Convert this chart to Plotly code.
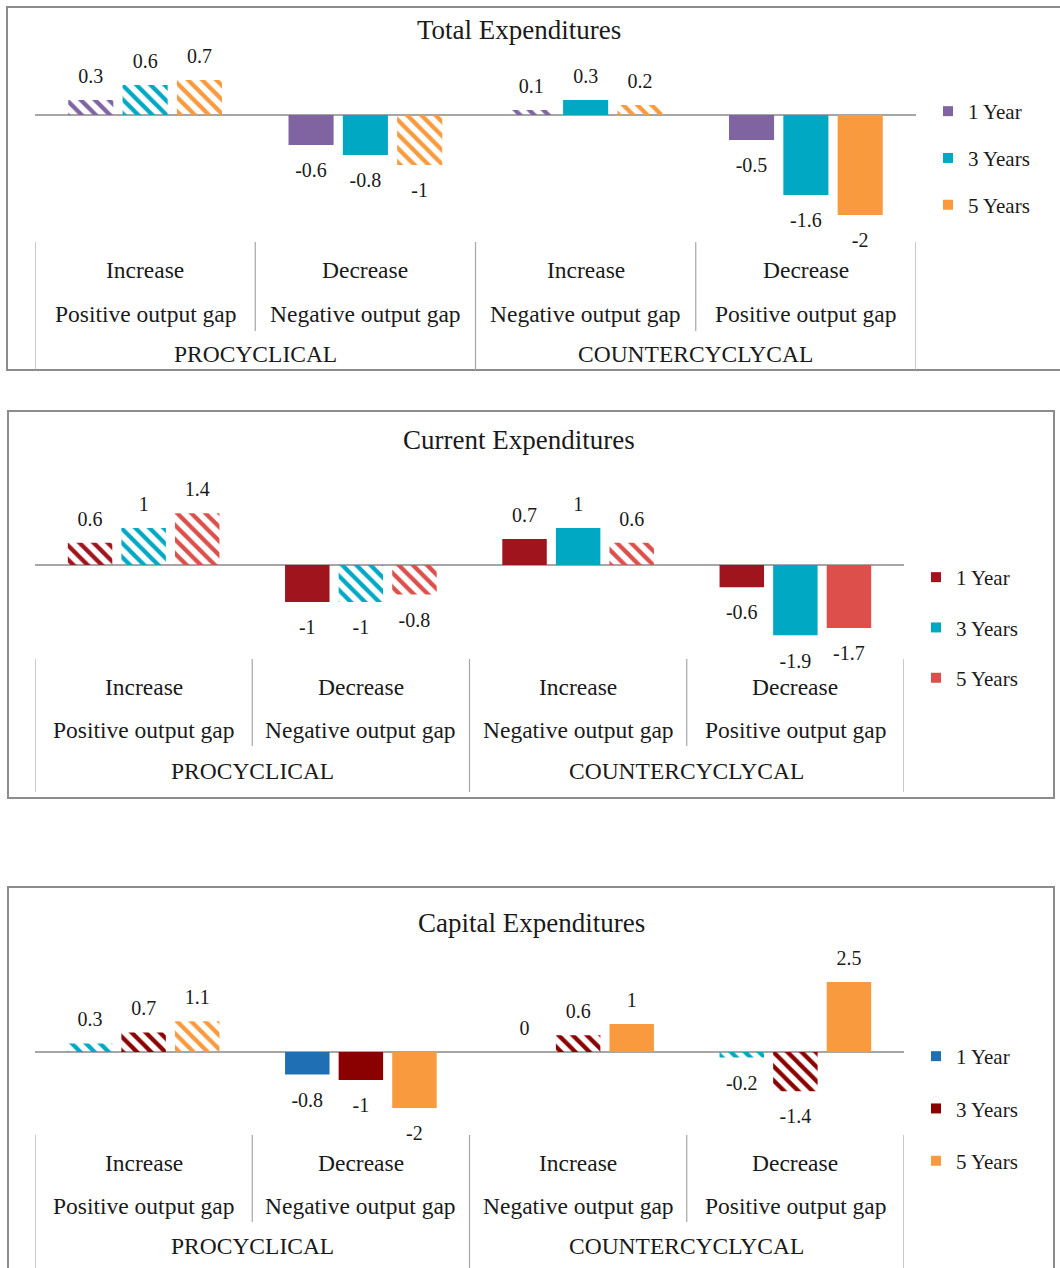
import plotly.graph_objects as go

W, H = 1060, 1268
FONT = "Liberation Serif"
INK = "#1a1a1a"

# ---- data -----------------------------------------------------------------
directions = ["Increase", "Decrease", "Increase", "Decrease"]
gaps = ["Positive output gap", "Negative output gap",
        "Negative output gap", "Positive output gap"]
cycles = ["PROCYCLICAL", "COUNTERCYCLYCAL"]
horizons = ["1 Year", "3 Years", "5 Years"]

total_1y = [0.3, -0.6, 0.1, -0.5]
total_3y = [0.6, -0.8, 0.3, -1.6]
total_5y = [0.7, -1.0, 0.2, -2.0]

current_1y = [0.6, -1.0, 0.7, -0.6]
current_3y = [1.0, -1.0, 1.0, -1.9]
current_5y = [1.4, -0.8, 0.6, -1.7]

capital_1y = [0.3, -0.8, 0.0, -0.2]
capital_3y = [0.7, -1.0, 0.6, -1.4]
capital_5y = [1.1, -2.0, 1.0, 2.5]

# 1 = hatched (not significant), 0 = solid
total_hatch = [[1, 0, 1, 0], [1, 0, 0, 0], [1, 1, 1, 0]]
current_hatch = [[1, 0, 0, 0], [1, 1, 0, 0], [1, 1, 1, 0]]
capital_hatch = [[1, 0, 0, 1], [1, 0, 1, 1], [1, 0, 0, 0]]

# ---- colours ----------------------------------------------------------------
PURPLE = "#8064A2"
TEAL = "#00A8C3"
ORANGE = "#F99A3E"
DARKRED = "#A0141E"
SALMON = "#DC4F4A"
BLUE = "#1F6FB5"
MAROON = "#8B0000"

BARGAP = 0.26

panels = [
    dict(title="Total Expenditures",
         series=[total_1y, total_3y, total_5y], hatch=total_hatch,
         legend_colors=[PURPLE, TEAL, ORANGE],
         bar_colors=[[PURPLE] * 4, [TEAL] * 4, [ORANGE] * 4],
         xdom=(35, 916), ydom=(40, 240), yrange=(-2.5, 1.5),
         border=(7, 7, 1064, 370), title_xy=(519, 30),
         rows=(270, 314, 354), sep=(242, 331, 370),
         legend_xy=(928, 91), legend_gap=16.5),
    dict(title="Current Expenditures",
         series=[current_1y, current_3y, current_5y], hatch=current_hatch,
         legend_colors=[DARKRED, TEAL, SALMON],
         bar_colors=[[DARKRED] * 4, [TEAL] * 4, [SALMON] * 4],
         xdom=(35, 904), ydom=(470, 655), yrange=(-90 / 37, 95 / 37),
         border=(8, 411, 1054, 798), title_xy=(519, 440),
         rows=(687, 730, 771), sep=(659, 746, 792),
         legend_xy=(916, 557), legend_gap=20),
    dict(title="Capital Expenditures",
         series=[capital_1y, capital_3y, capital_5y], hatch=capital_hatch,
         legend_colors=[BLUE, MAROON, ORANGE],
         bar_colors=[[TEAL, BLUE, BLUE, TEAL], [MAROON] * 4, [ORANGE] * 4],
         xdom=(35, 904), ydom=(950, 1130), yrange=(-78 / 28, 102 / 28),
         border=(8, 887, 1054, 1290), title_xy=(531, 923),
         rows=(1163, 1206, 1246), sep=(1135, 1222, 1268),
         legend_xy=(916, 1036), legend_gap=22),
]


def px_x(v):
    return v / W


def px_y(v):
    return 1 - v / H


fig = go.Figure()
layout = dict(width=W, height=H, margin=dict(l=0, r=0, t=0, b=0),
              paper_bgcolor="white", plot_bgcolor="white",
              barmode="group", bargap=BARGAP, bargroupgap=0.17,
              scattermode="group", scattergap=BARGAP,
              font=dict(family=FONT, color=INK),
              showlegend=True)
annotations = []
shapes = []
xs = list(range(len(directions)))

for p_i, p in enumerate(panels):
    sfx = "" if p_i == 0 else str(p_i + 1)
    xa, ya = "x" + sfx, "y" + sfx
    leg = "legend" + sfx

    for s_i, (vals, hatch, cols) in enumerate(zip(p["series"], p["hatch"], p["bar_colors"])):
        grp = f"p{p_i}s{s_i}"
        shapes_arr = ["\\" if h else "" for h in hatch]
        fig.add_trace(go.Bar(
            x=xs, y=vals, xaxis=xa, yaxis=ya, offsetgroup=grp,
            marker=dict(color=cols, line=dict(width=0),
                        pattern=dict(shape=shapes_arr, fillmode="replace",
                                     fgcolor=cols, bgcolor="white",
                                     size=10, solidity=0.42)),
            showlegend=False, hoverinfo="skip", name=horizons[s_i]))
        # value labels, set a little away from the bar ends
        fig.add_trace(go.Scatter(
            x=xs, y=vals, xaxis=xa, yaxis=ya, offsetgroup=grp,
            mode="markers+text",
            marker=dict(size=[18 if v >= 0 else 26 for v in vals], opacity=0),
            text=[f"{v:g}" for v in vals],
            textposition=["top center" if v >= 0 else "bottom center" for v in vals],
            textfont=dict(family=FONT, size=20, color=INK),
            cliponaxis=False, showlegend=False, hoverinfo="skip"))
        # legend entry as a small solid square
        fig.add_trace(go.Scatter(
            x=[None], y=[None], xaxis=xa, yaxis=ya, mode="markers",
            offsetgroup=grp,
            marker=dict(symbol="square", size=10, color=p["legend_colors"][s_i]),
            name=horizons[s_i], legend=leg, legendgroup=grp, showlegend=True))

    x0, x1 = p["xdom"]
    ytop, ybot = p["ydom"]
    layout["xaxis" + sfx] = dict(domain=[px_x(x0), px_x(x1)], range=[-0.5, 3.5],
                                 visible=False, anchor=ya, fixedrange=True)
    layout["yaxis" + sfx] = dict(domain=[px_y(ybot), px_y(ytop)], range=list(p["yrange"]),
                                 showgrid=False, showticklabels=False, ticks="",
                                 showline=False, zeroline=True, zerolinecolor="#A6A6A6",
                                 zerolinewidth=1.5, anchor=xa, fixedrange=True)
    layout[leg] = dict(x=px_x(p["legend_xy"][0]), y=px_y(p["legend_xy"][1]),
                       xanchor="left", yanchor="top", bgcolor="rgba(0,0,0,0)",
                       font=dict(family=FONT, size=21, color=INK),
                       tracegroupgap=p["legend_gap"], itemwidth=30)

    # panel frame
    bx0, by0, bx1, by1 = p["border"]
    shapes.append(dict(type="rect", xref="paper", yref="paper",
                       x0=px_x(bx0), x1=px_x(bx1), y0=px_y(by1), y1=px_y(by0),
                       line=dict(color="#8C8C8C", width=2), layer="below"))

    # title
    annotations.append(dict(text=p["title"], xref="paper", yref="paper",
                            x=px_x(p["title_xy"][0]), y=px_y(p["title_xy"][1]),
                            showarrow=False, font=dict(family=FONT, size=27, color=INK),
                            xanchor="center", yanchor="middle"))

    # category axis labels
    r1, r2, r3 = p["rows"]
    lab_font = dict(family=FONT, size=23.5, color=INK)
    for c_i in xs:
        annotations.append(dict(text=directions[c_i], xref=xa, yref="paper",
                                x=c_i, y=px_y(r1), showarrow=False,
                                xanchor="center", yanchor="middle", font=lab_font))
        annotations.append(dict(text=gaps[c_i], xref=xa, yref="paper",
                                x=c_i, y=px_y(r2), showarrow=False,
                                xanchor="center", yanchor="middle", font=lab_font))
    for g_i, g in enumerate(cycles):
        annotations.append(dict(text=g, xref=xa, yref="paper",
                                x=2 * g_i + 0.5, y=px_y(r3), showarrow=False,
                                xanchor="center", yanchor="middle", font=lab_font))

    # category dividers
    stop, sshort, sfull = p["sep"]
    for k in range(len(directions) + 1):
        bottom = sfull if k % 2 == 0 else sshort
        shapes.append(dict(type="line", xref=xa, yref="paper",
                           x0=k - 0.5, x1=k - 0.5, y0=px_y(stop), y1=px_y(bottom),
                           line=dict(color="#A6A6A6", width=1.2)))

layout["annotations"] = annotations
layout["shapes"] = shapes
fig.update_layout(**layout)
fig.write_html("out.html")
